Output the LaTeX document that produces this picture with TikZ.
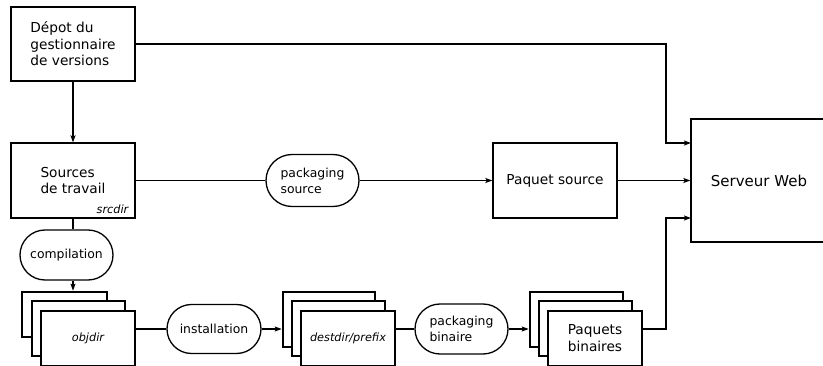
\documentclass[tikz,border=0pt]{standalone}
\usepackage{fontspec}
\setmainfont{DejaVu Sans}
\usetikzlibrary{arrows.meta,shapes.misc,fit,calc}

\begin{document}
\begin{tikzpicture}[x=1pt,y=-1pt,
  line width=1.3pt,
  every node/.style={inner sep=0pt},
  box/.style={draw,rectangle,fill=white,align=left,
    font=\fontsize{13.7}{16.5}\selectfont},
  proc/.style={draw,rounded rectangle,fill=white,align=left,
    font=\fontsize{12.4}{16}\selectfont},
  copybox/.style={draw,rectangle,fill=white,minimum width=93pt,minimum height=55pt},
  dirlabel/.style={font=\fontsize{11.3}{13}\selectfont\itshape},
  arr/.style={-{Stealth[length=7pt,width=5pt,inset=1.5pt]}},
  stack/.style={fit=#1,inner sep=0pt}
]
\useasboundingbox (0,0) rectangle (823,366);

% repository and working sources
\node[box,minimum width=124pt,minimum height=74pt] (depot) at (73,44)
  {Dépot du\\gestionnaire\\de versions};
\node[box,minimum width=124pt,minimum height=75pt] (sources) at (73,180.5)
  {Sources\\de travail};
\node[dirlabel,anchor=east] (srcdir) at (129,209) {srcdir};

% source packaging branch
\node[proc,minimum width=93pt,minimum height=52pt] (packsrc) at (312.5,180.5)
  {packaging\\source};
\node[box,minimum width=124pt,minimum height=75pt] (paqsrc) at (555,180.5)
  {Paquet source};

% web server
\node[box,minimum width=136pt,minimum height=123pt,
  font=\fontsize{15}{18}\selectfont] (serveur) at (759,180.5) {Serveur Web};
\coordinate (in1) at (691,143);
\coordinate (in3) at (691,218);

% build branch
\node[proc,minimum width=93pt,minimum height=50pt] (compil) at (66.5,255)
  {compilation};

\node[copybox,minimum width=85pt,minimum height=45pt] (obj1) at (64.5,314.5) {};
\node[copybox] (obj2) at (78.5,328.5) {};
\node[copybox,minimum width=94pt,dirlabel] (obj3) at (88,338.5) {objdir};
\node[stack={(obj1)(obj2)(obj3)}] (objstack) {};

\node[proc,minimum width=94pt,minimum height=49pt] (install) at (214,329)
  {installation};

\node[copybox,minimum width=92pt] (dest1) at (329,319.5) {};
\node[copybox] (dest2) at (338.5,328.5) {};
\node[copybox,minimum width=94pt,dirlabel] (dest3) at (348,338.5) {destdir/prefix};
\node[stack={(dest1)(dest2)(dest3)}] (deststack) {};

\node[proc,minimum width=93pt,minimum height=50pt] (packbin) at (461.5,329)
  {packaging\\binaire};

\node[copybox] (bin1) at (576.5,319.5) {};
\node[copybox] (bin2) at (585.5,328.5) {};
\node[copybox,minimum width=94pt,align=left,
  font=\fontsize{13.7}{17}\selectfont] (bin3) at (595,338.5) {Paquets\\binaires};
\node[stack={(bin1)(bin2)(bin3)}] (binstack) {};

% connectors
\draw[arr] (depot.east) -| ($(in1)+(-25,0)$) -- (in1);
\draw[arr] (depot.south) -- (sources.north);
\draw (sources.east) -- (packsrc.west);
\draw[arr] (packsrc.east) -- (paqsrc.west);
\draw[arr] (paqsrc.east) -- (paqsrc.east -| serveur.west);

\draw (sources.south) -- (sources.south |- compil.north);
\draw[arr] (sources.south |- compil.south) -- (sources.south |- objstack.north);
\draw (objstack.east) -- (install.west);
\draw[arr] (install.east) -- (deststack.west);
\draw (deststack.east) -- (packbin.west);
\draw[arr] (packbin.east) -- (binstack.west);
\draw[arr] (binstack.east) -| ($(in3)+(-25,0)$) -- (in3);
\end{tikzpicture}
\end{document}
